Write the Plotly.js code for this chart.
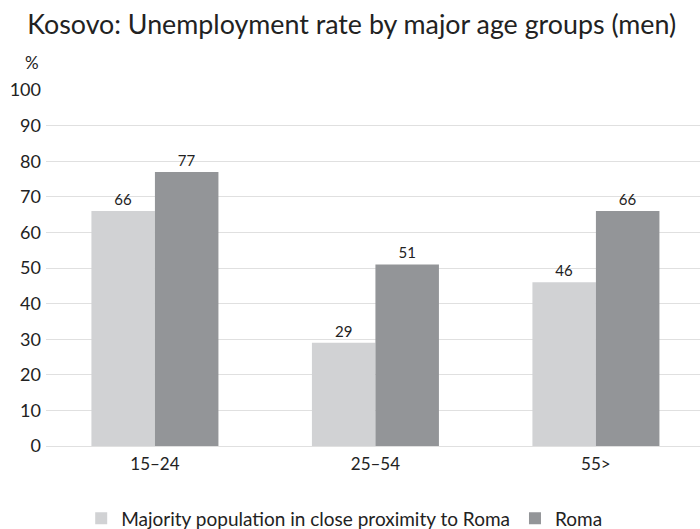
<!DOCTYPE html>
<html>
<head>
<meta charset="utf-8">
<script src="https://cdn.plot.ly/plotly-3.0.1.min.js"></script>
<style>body{margin:0;padding:0;background:#fff;}#chart{width:700px;height:529px;}</style>
</head>
<body>
<div id="chart"></div>
<script>
const categories = ["15–24", "25–54", "55>"];
const majorityValues = [66, 29, 46];
const romaValues = [77, 51, 66];
const seriesNames = ["Majority population in close proximity to Roma", "Roma"];
const yTickVals = [0, 10, 20, 30, 40, 50, 60, 70, 80, 90, 100];

const fontFam = "Lato, 'Open Sans', sans-serif";

const traces = [
  {
    type: "bar", name: seriesNames[0], x: categories, y: majorityValues,
    marker: {color: "#d1d2d4"},
    text: majorityValues.map(String), textposition: "outside", cliponaxis: false,
    textfont: {family: fontFam, size: 15, color: "#222"}
  },
  {
    type: "bar", name: seriesNames[1], x: categories, y: romaValues,
    marker: {color: "#939598"},
    text: romaValues.map(String), textposition: "outside", cliponaxis: false,
    textfont: {family: fontFam, size: 15, color: "#222"}
  }
];

const layout = {
  width: 700, height: 529,
  margin: {l: 46, r: 0, t: 90, b: 83},
  paper_bgcolor: "#fff", plot_bgcolor: "#fff",
  font: {family: fontFam, color: "#222"},
  title: {text: "Kosovo: Unemployment rate by major age groups (men)", x: 0.039, xanchor: "left", y: 0.972, yanchor: "top",
          font: {family: fontFam, size: 26.8, color: "#222"}},
  barmode: "group", bargap: 0.424, bargroupgap: 0,
  showlegend: true,
  legend: {orientation: "h", xref: "container", yref: "container", x: 0.116, xanchor: "left", y: 0.02, yanchor: "middle",
           font: {family: fontFam, size: 19, color: "#222"}, itemwidth: 30, traceorder: "normal"},
  xaxis: {type: "category", range: [-0.494, 2.472], showgrid: false, showline: false, zeroline: false,
          ticks: "", tickfont: {family: fontFam, size: 17, color: "#222"}, ticklabelstandoff: 6},
  yaxis: {range: [0, 100], tickvals: yTickVals, showgrid: true, gridcolor: "#e0e0e0", gridwidth: 1,
          zeroline: true, zerolinecolor: "#e0e0e0", showline: false, ticks: "",
          tickfont: {family: fontFam, size: 18, color: "#222"}, ticklabelstandoff: 4},
  annotations: [{text: "%", xref: "paper", yref: "paper", x: -0.021, y: 1.076, xanchor: "center", yanchor: "middle", showarrow: false, font: {family: fontFam, size: 17, color: "#222"}}]
};

Plotly.newPlot("chart", traces, layout, {displayModeBar: false});
</script>
</body>
</html>
